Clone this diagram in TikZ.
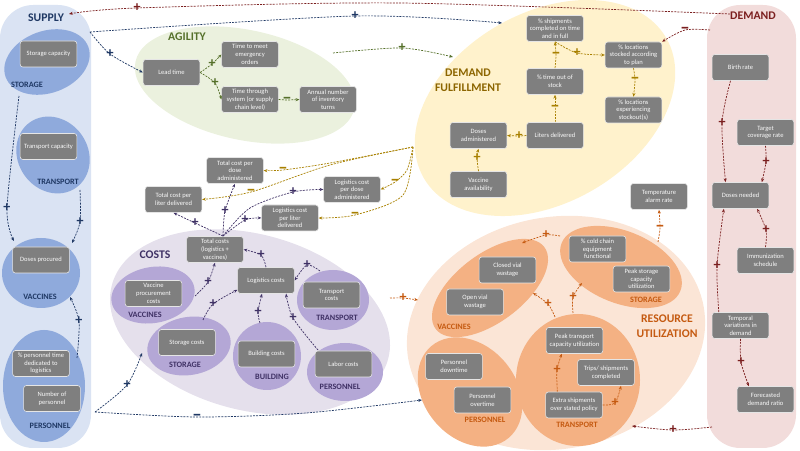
\documentclass[tikz,border=0pt]{standalone}
\usepackage{fontspec}
\setmainfont{Carlito}
\usetikzlibrary{arrows.meta}

\definecolor{boxgray}{HTML}{7F7F7F}
\definecolor{supbg}{HTML}{DAE3F3}
\definecolor{supsub}{HTML}{8FAADC}
\definecolor{supc}{HTML}{1F3864}
\definecolor{agibg}{HTML}{EBF1DE}
\definecolor{agic}{HTML}{55702A}
\definecolor{dfbg}{HTML}{FFF2CC}
\definecolor{dfc}{HTML}{8C6500}
\definecolor{dfl}{HTML}{A88000}
\definecolor{dembg}{HTML}{F2DCDB}
\definecolor{demc}{HTML}{7B1F1F}
\definecolor{cstbg}{HTML}{E5E0EC}
\definecolor{cstsub}{HTML}{B4A7D6}
\definecolor{cstc}{HTML}{3F3165}
\definecolor{rubg}{HTML}{FBE5D6}
\definecolor{rusub}{HTML}{F4B183}
\definecolor{ruc}{HTML}{C55A11}

% A wider minus sign for the links.
\newcommand{\mns}{{\fontsize{16}{16}\selectfont –}}

\begin{document}
\begin{tikzpicture}[x=0.3mm,y=-0.3mm,
  box/.style={draw=white!80!boxgray,line width=0.5pt,fill=boxgray,rounded corners=0.8mm,
    text=white!95!boxgray,align=center,minimum width=17mm,minimum height=7.8mm,inner sep=0.5pt,
    font=\fontsize{5.6}{6.6}\selectfont},
  grouptitle/.style={font=\fontsize{10}{12.5}\selectfont\bfseries,align=center},
  subtag/.style={font=\fontsize{7}{8}\selectfont\bfseries},
  sgn/.style={font=\fontsize{12}{12}\selectfont\bfseries,inner sep=0pt},
  conn/.style={line width=0.6pt,dash pattern=on 1.7pt off 1pt,-{Stealth[length=3.2pt,width=2.6pt]}}]
  \useasboundingbox (0,0) rectangle (800,451);

  % Side columns: supply and demand.
  \fill[supbg,rounded corners=10mm] (0,5) rectangle (91,448);
  \fill[dembg,rounded corners=10mm] (707,5) rectangle (796,448);
  \fill[supsub,rotate around={20:(47,62)}] (47,62) ellipse (44 and 31);
  \fill[supsub,rotate around={-55:(53,155)}] (53,155) ellipse (40 and 35);
  \fill[supsub] (41,273) ellipse (39 and 35);
  \fill[supsub] (44,386) ellipse (41 and 56);

  % Middle groups.
  \fill[agibg,rotate around={-12:(245,85)}] (245,85) ellipse (112 and 55);
  \fill[dfbg,rotate around={30:(545,108)}] (545,108) ellipse (140 and 95);
  \fill[cstbg,rotate around={-15:(250,322)}] (250,322) ellipse (143 and 88);
  \fill[rubg,rotate around={10:(556,333)}] (556,333) ellipse (150 and 116);

  \fill[cstsub,rotate around={10:(153,295)}] (153,295) ellipse (42 and 28);
  \fill[cstsub,rotate around={10:(189,346)}] (189,346) ellipse (42 and 29);
  \fill[cstsub] (267,356) ellipse (34 and 34);
  \fill[cstsub] (333,300) ellipse (36 and 30);
  \fill[cstsub] (345,372) ellipse (38 and 29);

  \fill[rusub,rotate around={37:(490,288)}] (490,288) ellipse (68 and 34);
  \fill[rusub,rotate around={-22:(621,267)}] (621,267) ellipse (64 and 36);
  \fill[rusub] (578,380) ellipse (62 and 66);
  \fill[rusub,rotate around={-50:(470,392)}] (470,392) ellipse (60 and 46);

  % Group titles.
  \node[grouptitle,text=supc] (supT) at (46,18) {SUPPLY};
  \node[grouptitle,text=agic] (agiT) at (187,37) {AGILITY};
  \node[grouptitle,text=dfc] (dfT) at (468,80) {DEMAND\\FULFILLMENT};
  \node[grouptitle,text=demc] (demT) at (753,16) {DEMAND};
  \node[grouptitle,text=cstc] (cstT) at (155,255) {COSTS};
  \node[grouptitle,text=ruc] (ruT) at (667,326) {RESOURCE\\UTILIZATION};

  \foreach \x/\y/\t in {27/85/STORAGE,58/182/TRANSPORT,40/297/VACCINES,50/426/PERSONNEL}
    \node[subtag,text=supc] (sup\t) at (\x,\y) {\t};
  \foreach \x/\y/\t in {145/315/VACCINES,185/365/STORAGE,272/377/BUILDING,337/318/TRANSPORT,340/387/PERSONNEL}
    \node[subtag,text=cstc] (cst\t) at (\x,\y) {\t};
  \foreach \x/\y/\t in {454/327/VACCINES,646/300/STORAGE,577/425/TRANSPORT,485/420/PERSONNEL}
    \node[subtag,text=ruc] (ru\t) at (\x,\y) {\t};

  % Variables.
  \node[box] (stcap) at (48.5,54) {Storage capacity};
  \node[box] (trcap) at (48.5,146.5) {Transport capacity};
  \node[box] (dproc) at (41,260) {Doses procured};
  \node[box] (ptime) at (41,363.5) {\% personnel time\\dedicated to\\logistics};
  \node[box] (npers) at (52,398.5) {Number of\\personnel};

  \node[box] (lead) at (171.5,72.5) {Lead time};
  \node[box] (emerg) at (250,54.5) {Time to meet\\emergency\\orders};
  \node[box] (thru) at (250,99.5) {Time through\\system (or supply\\chain level)};
  \node[box] (turns) at (328,99.5) {Annual number\\of inventory\\turns};

  \node[box] (otif) at (555,28.5) {\% shipments\\completed on time\\and in full};
  \node[box] (tout) at (555,81.5) {\% time out of\\stock};
  \node[box] (liters) at (555,135.5) {Liters delivered};
  \node[box] (dadm) at (478.5,135.5) {Doses\\administered};
  \node[box] (vavail) at (478.5,184.5) {Vaccine\\availability};
  \node[box] (locplan) at (633.5,55) {\% locations\\stocked according\\to plan};
  \node[box] (locout) at (633.5,110) {\% locations\\experiencing\\stockout(s)};

  \node[box] (birth) at (740.5,67.5) {Birth rate};
  \node[box] (target) at (765.5,132.5) {Target\\coverage rate};
  \node[box] (dneed) at (740.5,195.5) {Doses needed};
  \node[box] (immun) at (765.5,260.5) {Immunization\\schedule};
  \node[box] (tempv) at (740.5,325.5) {Temporal\\variations in\\demand};
  \node[box] (fcast) at (765.5,399.5) {Forecasted\\demand ratio};

  \node[box] (alarm) at (659,196.5) {Temperature\\alarm rate};
  \node[box] (ccef) at (597.5,249) {\% cold chain\\equipment\\functional};
  \node[box] (pkstor) at (641.5,279) {Peak storage\\capacity\\utilization};
  \node[box] (closed) at (507.5,270) {Closed vial\\wastage};
  \node[box] (openv) at (475,302) {Open vial\\wastage};
  \node[box] (pktr) at (574.5,340.5) {Peak transport\\capacity utilization};
  \node[box] (trips) at (606,372.5) {Trips/ shipments\\completed};
  \node[box] (extra) at (574,405) {Extra shipments\\over stated policy};
  \node[box] (pdown) at (454,366.5) {Personnel\\downtime};
  \node[box] (pover) at (482.5,400) {Personnel\\overtime};

  \node[box] (tcdose) at (235,170.5) {Total cost per\\dose\\administered};
  \node[box] (tcliter) at (173.5,199.5) {Total cost per\\liter delivered};
  \node[box] (lcdose) at (352,189.5) {Logistics cost\\per dose\\administered};
  \node[box] (lcliter) at (290,218) {Logistics cost\\per liter\\delivered};
  \node[box] (totc) at (215,249.5) {Total costs\\(logistics +\\vaccines)};
  \node[box] (logc) at (266,280.5) {Logistics costs};
  \node[box] (vpc) at (153.5,293.5) {Vaccine\\procurement\\costs};
  \node[box] (storc) at (187,342.5) {Storage costs};
  \node[box] (buildc) at (266.5,354) {Building costs};
  \node[box] (transc) at (331.5,295) {Transport\\costs};
  \node[box] (laborc) at (343.5,364) {Labor costs};

  % Ends on group borders.
  \coordinate (stS) at (19,96);
  \coordinate (vacN) at (14,241);
  \coordinate (trS) at (80,190);
  \coordinate (vacNE) at (72,243);
  \coordinate (peN) at (77,358);
  \coordinate (vacS) at (70,297);
  \coordinate (supTop) at (90,32);
  \coordinate (supBot) at (95,412);
  \coordinate (supTopL) at (69,14);
  \coordinate (demTop) at (730,14);
  \coordinate (demL) at (710,30);
  \coordinate (demB) at (712,427);
  \coordinate (agiE) at (333,53);
  \coordinate (dfTop) at (502,23);
  \coordinate (dfW) at (453,57);
  \coordinate (dfL) at (413,147);
  \coordinate (cstW) at (142,353);
  \coordinate (cstE) at (390,298);
  \coordinate (ruW) at (418,300);
  \coordinate (ruPW) at (422,400);
  \coordinate (ruSE) at (632,426);
  \coordinate (vpcE) at (195,296);
  \coordinate (storN) at (203,320);
  \coordinate (buildN) at (260,323);
  \coordinate (transN) at (320,271);
  \coordinate (persN) at (318,350);
  \coordinate (tcn) at (223,236);
  \coordinate (rustW) at (560,236);
  \coordinate (ruvacNE) at (522,243);
  \coordinate (rutrA) at (555,317);
  \coordinate (ruvacSE) at (533,293);
  \coordinate (rutrB) at (573,313);
  \coordinate (rustS) at (582,283);
  \coordinate (rustN) at (658,242);

  % Polarity signs.
  \foreach \n/\x/\y/\s in {sa/7/208/+,sb/80/222/+,sc/79/321/+,sd/110/54/+,se/355/16/+,sf/127/385/+,sg/197/417/\mns}
    \node[sgn,text=supc] (\n) at (\x,\y) {\s};
  \foreach \n/\x/\y/\s in {ia/212/64/+,ib/215/83/+,ic/287/100/\mns,id/402/48/+}
    \node[sgn,text=agic] (\n) at (\x,\y) {\s};
  \foreach \n/\x/\y/\s in {ja/555/108/\mns,jb/556/55/\mns,jc/577/53/+,jd/635/80/\mns,je/519/136/+,jf/477/158/+,jh/283/170/\mns,ji/251/192/\mns,jj/395/182/\mns,jk/355/215/\mns}
    \node[sgn,text=dfl] (\n) at (\x,\y) {\s};
  \foreach \n/\x/\y/\s in {sh/137/8/+,jg/685/30/\mns,ka/722/123/+,kb/766/162/+,kc/766/230/+,kd/717/266/+,ke/741/362/+,kf/673/430/+}
    \node[sgn,text=demc] (\n) at (\x,\y) {\s};
  \foreach \n/\x/\y/\s in {la/208/282/+,lb/261/255/+,lc/307/265/+,ld/213/304/+,le/258/312/+,lf/293/318/+,lg/195/223/+,lh/225/211/+,li/245/220/+,lj/293/192/+}
    \node[sgn,text=cstc] (\n) at (\x,\y) {\s};
  \foreach \n/\x/\y/\s in {ma/403/298/+,na/546/235/+,nb/548/304/+,nc/573/297/+,nd/557/370/+,ne/615/403/+,nf/660/228/\mns}
    \node[sgn,text=ruc] (\n) at (\x,\y) {\s};

  % Supply links.
  \draw[conn,supc] plot[smooth] coordinates {(stS) (sa.center) (vacN)};
  \draw[conn,supc] plot[smooth] coordinates {(trS) (sb.center) (vacNE)};
  \draw[conn,supc] plot[smooth] coordinates {(peN) (sc.center) (vacS)};
  \draw[conn,supc] plot[smooth] coordinates {(supTop) (sd.center) (lead.west)};
  \draw[conn,supc] plot[smooth] coordinates {(supTop) (se.center) (dfTop)};
  \draw[conn,supc] plot[smooth] coordinates {(supBot) (sf.center) (cstW)};
  \draw[conn,supc] plot[smooth] coordinates {(supBot) (sg.center) (306,413) (ruPW)};
  \draw[conn,demc] plot[smooth] coordinates {(demTop) (400,3) (sh.center) (supTopL)};

  % Agility links.
  \draw[conn,agic] plot[smooth] coordinates {(lead.east) (ia.center) (emerg.west)};
  \draw[conn,agic] plot[smooth] coordinates {(lead.east) (ib.center) (thru.west)};
  \draw[conn,agic] plot[smooth] coordinates {(thru.east) (ic.center) (turns.west)};
  \draw[conn,agic] plot[smooth] coordinates {(agiE) (id.center) (dfW)};

  % Demand fulfillment links.
  \draw[conn,dfl] plot[smooth] coordinates {(liters.north) (ja.center) (tout.south)};
  \draw[conn,dfl] plot[smooth] coordinates {(tout.north) (jb.center) (otif.south)};
  \draw[conn,dfl] plot[smooth] coordinates {(otif.south) (jc.center) (locplan.west)};
  \draw[conn,dfl] plot[smooth] coordinates {(locplan.south) (jd.center) (locout.north)};
  \draw[conn,dfl] plot[smooth] coordinates {(liters.west) (je.center) (dadm.east)};
  \draw[conn,dfl] plot[smooth] coordinates {(vavail.north) (jf.center) (dadm.south)};
  \draw[conn,dfl] plot[smooth] coordinates {(dfL) (330,163) (jh.center) (tcdose.east)};
  \draw[conn,dfl] plot[smooth] coordinates {(dfL) (330,165) (ji.center) (tcliter.east)};
  \draw[conn,dfl] plot[smooth] coordinates {(dfL) (407,170) (jj.center) (lcdose.east)};
  \draw[conn,dfl] plot[smooth] coordinates {(dfL) (403,195) (jk.center) (lcliter.east)};

  % Demand links.
  \draw[conn,demc] plot[smooth] coordinates {(demL) (jg.center) (locplan.north east)};
  \draw[conn,demc] plot[smooth] coordinates {([xshift=-3mm]birth.south) (ka.center) ([xshift=-4.5mm]dneed.north)};
  \draw[conn,demc] plot[smooth] coordinates {(target.south) (kb.center) ([xshift=6.4mm]dneed.north)};
  \draw[conn,demc] plot[smooth] coordinates {(immun.north) (kc.center) ([xshift=5mm]dneed.south)};
  \draw[conn,demc] plot[smooth] coordinates {([xshift=-6.5mm]tempv.north) (kd.center) ([xshift=-5mm]dneed.south)};
  \draw[conn,demc] plot[smooth] coordinates {(tempv.south) (ke.center) ([xshift=-5mm]fcast.north)};
  \draw[conn,demc] plot[smooth] coordinates {(demB) (kf.center) (ruSE)};

  % Cost links.
  \draw[conn,cstc] plot[smooth] coordinates {(vpcE) (la.center) (totc.south)};
  \draw[conn,cstc] plot[smooth] coordinates {(logc.north) (lb.center) (totc.east)};
  \draw[conn,cstc] plot[smooth] coordinates {(transN) (lc.center) (logc.east)};
  \draw[conn,cstc] plot[smooth] coordinates {(storN) (ld.center) ([yshift=-2.8mm]logc.west)};
  \draw[conn,cstc] plot[smooth] coordinates {(buildN) (le.center) ([xshift=-1.2mm]logc.south)};
  \draw[conn,cstc] plot[smooth] coordinates {(persN) (lf.center) ([xshift=6mm]logc.south)};
  \draw[conn,cstc] plot[smooth] coordinates {(tcn) (lg.center) (tcliter.south)};
  \draw[conn,cstc] plot[smooth] coordinates {(tcn) (lh.center) (tcdose.south)};
  \draw[conn,cstc] plot[smooth] coordinates {(tcn) (li.center) (lcliter.west)};
  \draw[conn,cstc] plot[smooth] coordinates {(tcn) (250,208) (lj.center) (lcdose.west)};

  % Resource utilization links.
  \draw[conn,ruc] plot[smooth] coordinates {(cstE) (ma.center) (ruW)};
  \draw[conn,ruc] plot[smooth] coordinates {(rustW) (na.center) (ruvacNE)};
  \draw[conn,ruc] plot[smooth] coordinates {(rutrA) (nb.center) (ruvacSE)};
  \draw[conn,ruc] plot[smooth] coordinates {(rutrB) (nc.center) (rustS)};
  \draw[conn,ruc] plot[smooth] coordinates {([xshift=-5mm]extra.north) (nd.center) ([xshift=-3.8mm]pktr.south)};
  \draw[conn,ruc] plot[smooth] coordinates {(extra.east) (ne.center) ([xshift=4.5mm]trips.south)};
  \draw[conn,ruc] plot[smooth] coordinates {(rustN) (nf.center) (alarm.south)};
\end{tikzpicture}
\end{document}
